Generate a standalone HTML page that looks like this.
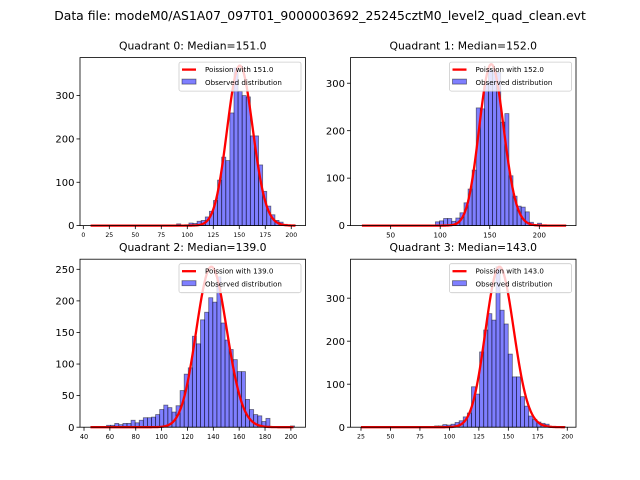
<!DOCTYPE html>
<html><head><meta charset="utf-8"><style>
html,body{margin:0;padding:0;background:#fff;}
svg{display:block;font-family:"DejaVu Sans","Liberation Sans",sans-serif;}
</style></head><body>
<svg id="fig" width="640" height="480" viewBox="0 0 640 480" xmlns="http://www.w3.org/2000/svg">
<rect width="640" height="480" fill="#fff"/>
<text x="320" y="20" text-anchor="middle" font-size="12.4">Data file: modeM0/AS1A07_097T01_9000003692_25245cztM0_level2_quad_clean.evt</text>
</svg>
<script>
// Data per quadrant
const titles = ["Quadrant 0: Median=151.0","Quadrant 1: Median=152.0","Quadrant 2: Median=139.0","Quadrant 3: Median=143.0"];
const lambdas = [151, 152, 139, 143];
const binStarts = [7, 21, 44.8, 25];
const binWidths = [3.94, 4.12, 3.16, 3.47];
const curvePeaks = [369, 340, 254, 373];
const counts0 = [0,0,0,0,0,0,0,0,0,0,0,0,0,0,0,0,0,0,0,0,0,4,0,2,6,5,10,12,20,33,58,105,158,150,260,364,310,300,297,207,207,140,79,45,25,12,8,3,0,1];
const counts1 = [0,0,0,0,0,0,0,0,0,0,0,0,0,0,0,0,0,0,8,10,15,15,9,16,27,48,77,117,248,246,300,329,326,323,218,236,105,62,41,39,29,7,2,5,0,0,0,0,0,1];
const counts2 = [0,0,0,0,3,3,6,4,6,6,11,7,11,15,15,16,20,28,35,31,24,34,58,84,94,144,132,170,182,205,198,238,165,138,123,107,88,88,44,28,20,18,9,14,0,0,0,0,0,2];
const counts3 = [0,0,0,0,0,0,0,0,0,0,0,0,0,0,0,0,0,0,3,3,6,5,7,11,15,24,33,94,77,175,226,264,249,373,272,240,170,117,117,71,49,26,18,12,9,7,0,0,0,1];
const allCounts = [counts0, counts1, counts2, counts3];
const xTicks = [[0,25,50,75,100,125,150,175,200],[50,100,150,200],[40,60,80,100,120,140,160,180,200],[25,50,75,100,125,150,175,200]];
const yTicks = [[0,100,200,300],[0,100,200,300],[0,50,100,150,200,250],[0,100,200,300]];
const xLims = [[-3.2,213.7],[9.5,237],[36.9,211.3],[16.1,207.4]];
const yMaxes = [387.7, 354, 266, 390.6];
const xTickFont = [6.2, 7, 6.6, 6.2];

const NS = "http://www.w3.org/2000/svg";
const svg = document.getElementById('fig');
function mk(tag, attrs, parent){const e=document.createElementNS(NS,tag);for(const k in attrs)e.setAttribute(k,attrs[k]);(parent||svg).appendChild(e);return e;}
function lgamma(z){
  return (z-0.5)*Math.log(z)-z+0.5*Math.log(2*Math.PI)+1/(12*z)-1/(360*z*z*z);
}
const boxes = [[80,57.6],[350.5,57.6],[80,259.2],[350.5,259.2]];
const W = 225.5, H = 168;
for(let q=0;q<4;q++){
  const [L,T]=boxes[q];
  const g = mk('g',{});
  
  
  const xs = v => L + (v - xLims[q][0])/(xLims[q][1]-xLims[q][0])*W;
  const ys = v => T + H - v/yMaxes[q]*H;
  const t = mk('text',{x:L+W/2,y:T-8,'text-anchor':'middle','font-size':'10.8'},g);
  t.textContent = titles[q];
  
  
  const c = allCounts[q];
  for(let k=0;k<c.length;k++){
    if(c[k]<=0) continue;
    const x0 = xs(binStarts[q]+k*binWidths[q]), x1 = xs(binStarts[q]+(k+1)*binWidths[q]);
    const r = mk('rect',{x:x0,y:ys(c[k]),width:x1-x0,height:ys(0)-ys(c[k]),fill:'rgba(0,0,255,0.5)',stroke:'rgba(0,0,0,0.5)','stroke-width':'0.8'},g);
    
    
  }
  const lam = lambdas[q];
  const peakLog = lam*Math.log(lam)-lam-lgamma(lam+1);
  const kStart = Math.ceil(binStarts[q]), kEnd = Math.floor(binStarts[q]+c.length*binWidths[q]);
  let d='';
  for(let k=kStart;k<=kEnd;k++){
    const lp = k*Math.log(lam)-lam-lgamma(k+1);
    const v = curvePeaks[q]*Math.exp(lp-peakLog);
    d += (k===kStart?'M':'L')+xs(k).toFixed(2)+','+ys(v).toFixed(2);
  }
  const p = mk('path',{d:d,fill:'none',stroke:'#ff0000','stroke-width':'2.3','stroke-linejoin':'round'},g);
  
  
  const f = mk('rect',{x:L,y:T,width:W,height:H,fill:'none',stroke:'#000','stroke-width':'0.8'},g);
  
  
  for(const tv of xTicks[q]){
    const x = xs(tv);
    mk('line',{x1:x,x2:x,y1:T+H,y2:T+H+3.5,stroke:'#000','stroke-width':'0.8'},g);
    const tl = mk('text',{x:x,y:T+H+5+xTickFont[q],'text-anchor':'middle','font-size':xTickFont[q]},g);
    tl.textContent = tv;
    
    
  }
  for(const tv of yTicks[q]){
    const y = ys(tv);
    mk('line',{x1:L-3.5,x2:L,y1:y,y2:y,stroke:'#000','stroke-width':'0.8'},g);
    const tl = mk('text',{x:L-5.5,y:y+3.6,'text-anchor':'end','font-size':'10'},g);
    tl.textContent = tv;
    
    
  }
  const lg = mk('g',{},g);
  
  
  const lx = L+W-4.5-122, ly = T+4.5;
  mk('rect',{x:lx,y:ly,width:122,height:29,rx:2,fill:'rgba(255,255,255,0.8)',stroke:'#ccc','stroke-width':'0.8'},lg);
  mk('line',{x1:lx+3,x2:lx+17,y1:ly+7.5,y2:ly+7.5,stroke:'#ff0000','stroke-width':'2.3'},lg);
  const t1 = mk('text',{x:lx+26,y:ly+10,'font-size':'7.1'},lg);
  t1.textContent = 'Poission with '+lam.toFixed(1);
  
  
  mk('rect',{x:lx+3,y:ly+17,width:14,height:5,fill:'rgba(0,0,255,0.5)',stroke:'rgba(0,0,0,0.5)','stroke-width':'0.8'},lg);
  const t2 = mk('text',{x:lx+26,y:ly+23,'font-size':'7.1'},lg);
  t2.textContent = 'Observed distribution';
  
  
}
</script>
</body></html>
